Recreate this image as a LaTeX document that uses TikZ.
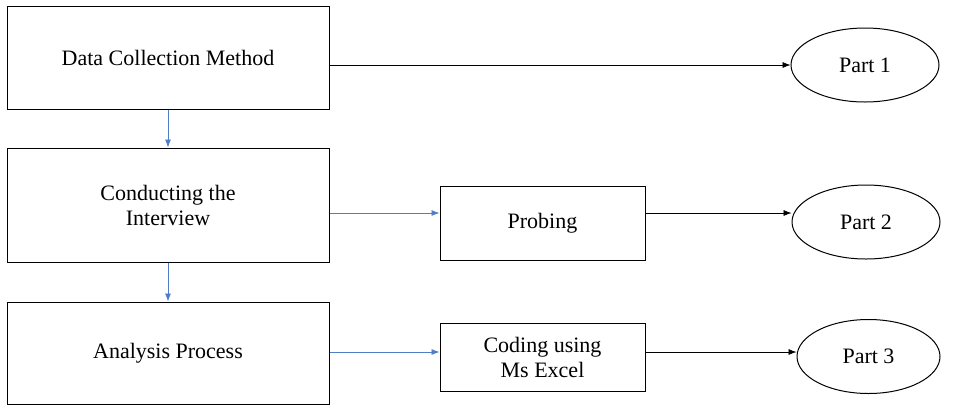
\documentclass[tikz,border=0pt]{standalone}
\usepackage{fontspec}
\setmainfont{Liberation Serif}
\usetikzlibrary{arrows.meta,shapes.geometric}
\definecolor{lblue}{RGB}{79,125,200}
\begin{document}
\begin{tikzpicture}[x=1pt,y=-1pt,
 box/.style={draw,line width=1pt,minimum width=#1,inner sep=0pt,align=center,font=\fontsize{22}{25}\selectfont},
 ell/.style={draw,line width=1pt,ellipse,minimum width=148pt,minimum height=74pt,inner sep=0pt,font=\fontsize{22}{25}\selectfont},
 blk/.style={-{Latex[length=8pt,width=6pt]},line width=0.6pt},
 blu/.style={-{Latex[length=8pt,width=6pt]},line width=0.8pt,color=lblue}]
\useasboundingbox (0,0) rectangle (960,405);
\node[box=322pt,minimum height=103pt] (dcm) at (168,57.5) {Data Collection Method};
\node[box=322pt,minimum height=114pt] (ci) at (168,205) {Conducting the\\Interview};
\node[box=322pt,minimum height=102pt] (ap) at (168,353) {Analysis Process};
\node[box=205pt,minimum height=74pt] (pr) at (542.5,223) {Probing};
\node[box=205pt,minimum height=68pt] (co) at (542.5,357) {Coding using\\Ms Excel};
\node[ell] (p1) at (865,65) {Part 1};
\node[ell] (p2) at (866,222) {Part 2};
\node[ell,minimum width=143pt] (p3) at (868.5,356.5) {Part 3};
\draw[blk] ([yshift=-7.5pt]dcm.east) -- (p1.west);
\draw[blu] (dcm.south) -- (ci.north);
\draw[blu] (ci.south) -- (ap.north);
\draw[blu] ([yshift=-8pt]ci.east) -- ([yshift=10pt]pr.west);
\draw[blu] ([yshift=1pt]ap.east) -- ([yshift=5pt]co.west);
\draw[blk] ([yshift=10pt]pr.east) -- ([yshift=9pt]p2.west);
\draw[blk] ([yshift=5pt]co.east) -- ([yshift=4.5pt]p3.west);
\end{tikzpicture}
\end{document}
